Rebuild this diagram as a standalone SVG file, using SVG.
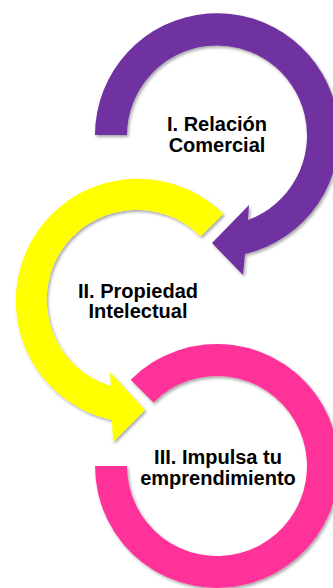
<svg xmlns="http://www.w3.org/2000/svg" width="333" height="588" viewBox="0 0 333 588">
  <defs>
    <filter id="sh" x="-10%" y="-10%" width="125%" height="125%">
      <feDropShadow dx="1.5" dy="2" stdDeviation="1.4" flood-color="#000" flood-opacity="0.35"/>
    </filter>
  </defs>
  <style>
    .lbl { font-family: "Liberation Sans", Arial, sans-serif; font-weight: bold; font-size: 20px; fill: #000; text-anchor: middle; }
    .ring { filter: url(#sh); }
  </style>
  <rect width="333" height="588" fill="#fff"/>
  <g id="node1">
    <path class="ring" fill="#7030A0" d="M 95 135 A 122 122 0 1 1 245 254 L 243 275 L 212 243 L 249 205 L 248 220 A 90 90 0 1 0 127 135 Z"/>
    <text class="lbl" x="217" y="131">I. Relación</text>
    <text class="lbl" x="217" y="152">Comercial</text>
  </g>
  <g id="node2">
    <path class="ring" fill="#FFFF00" d="M 223.3 213.7 A 122 122 0 1 0 112 420 L 113 442 L 145 410 L 110 372 L 111 386 A 90 90 0 1 1 200.6 236.4 Z"/>
    <text class="lbl" x="138" y="298">II. Propiedad</text>
    <text class="lbl" x="138" y="318">Intelectual</text>
  </g>
  <g id="node3">
    <path class="ring" fill="#FF3399" d="M 130.7 379.7 A 122 122 0 1 1 95 466 L 127 466 A 90 90 0 1 0 153.4 402.4 Z"/>
    <text class="lbl" x="218" y="464">III. Impulsa tu</text>
    <text class="lbl" x="218" y="485">emprendimiento</text>
  </g>
  <g id="connectors"></g>
</svg>
